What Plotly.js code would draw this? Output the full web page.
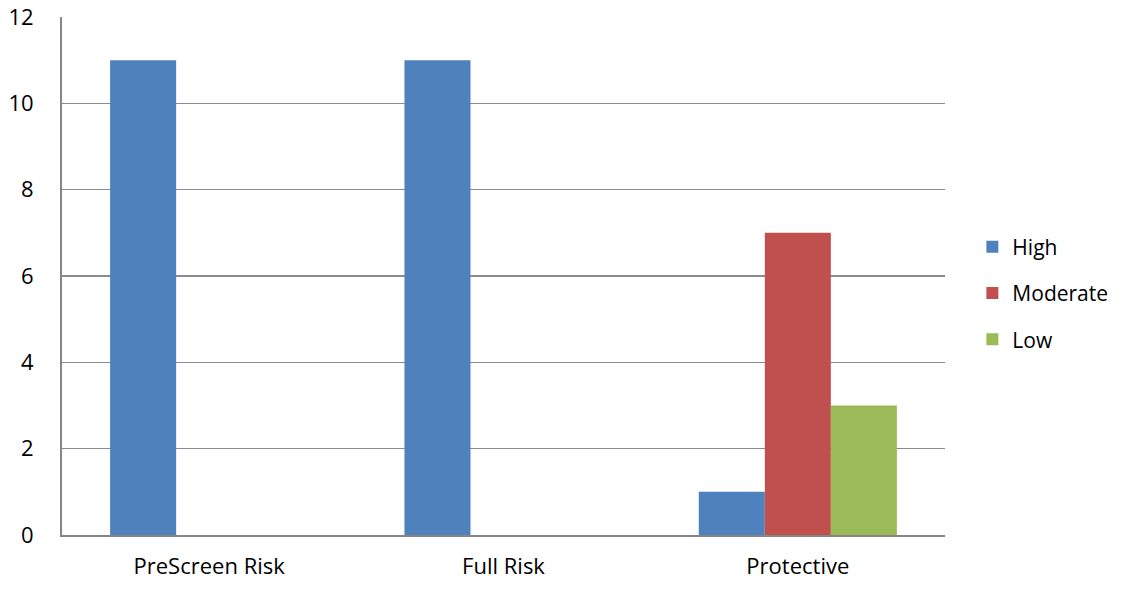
<!DOCTYPE html>
<html>
<head>
<meta charset="utf-8">
<script src="https://cdn.plot.ly/plotly-3.0.1.min.js"></script>
<style>html,body{margin:0;padding:0;background:#fff;}#chart{width:1122px;height:590px;}</style>
</head>
<body>
<div id="chart"></div>
<script>
const categories = ["PreScreen Risk", "Full Risk", "Protective"];
const seriesNames = ["High", "Moderate", "Low"];
const highValues = [11, 11, 1];
const moderateValues = [0, 0, 7];
const lowValues = [0, 0, 3];
const yTicks = [0, 2, 4, 6, 8, 10, 12];

const colors = ["#4F81BD", "#C0504D", "#9BBB59"];
const allValues = [highValues, moderateValues, lowValues];

const traces = allValues.map((vals, i) => ({
  type: "bar",
  name: seriesNames[i],
  x: categories,
  y: vals,
  legendgroup: "g" + i,
  marker: {color: colors[i], line: {width: 0}},
  hoverinfo: "x+y+name"
}));

const layout = {
  width: 1122,
  height: 590,
  margin: {l: 62, r: 177, t: 17, b: 55, autoexpand: false},
  paper_bgcolor: "#ffffff",
  plot_bgcolor: "#ffffff",
  font: {family: "'Open Sans', Lato, sans-serif", size: 22, color: "#000000"},
  barmode: "group",
  bargap: 0.327,
  bargroupgap: 0,
  showlegend: true,
  legend: {
    x: 1.031, xanchor: "left",
    y: 0.467, yanchor: "middle",
    traceorder: "grouped",
    tracegroupgap: 16,
    font: {size: 21},
    itemwidth: 30
  },
  xaxis: {
    type: "category",
    showgrid: false,
    showline: true,
    linecolor: "#868686",
    linewidth: 2,
    ticks: "",
    ticklabelstandoff: 11,
    tickfont: {size: 22}
  },
  yaxis: {
    range: [0, 12],
    tickvals: yTicks,
    ticktext: yTicks.map(String),
    showgrid: true,
    gridcolor: "#8c8c8c",
    gridwidth: 1.5,
    showline: true,
    linecolor: "#868686",
    linewidth: 2,
    zeroline: false,
    ticks: "",
    ticklabelstandoff: 22,
    tickfont: {size: 22}
  }
};

Plotly.newPlot("chart", traces, layout, {displayModeBar: false, staticPlot: true});
</script>
</body>
</html>
